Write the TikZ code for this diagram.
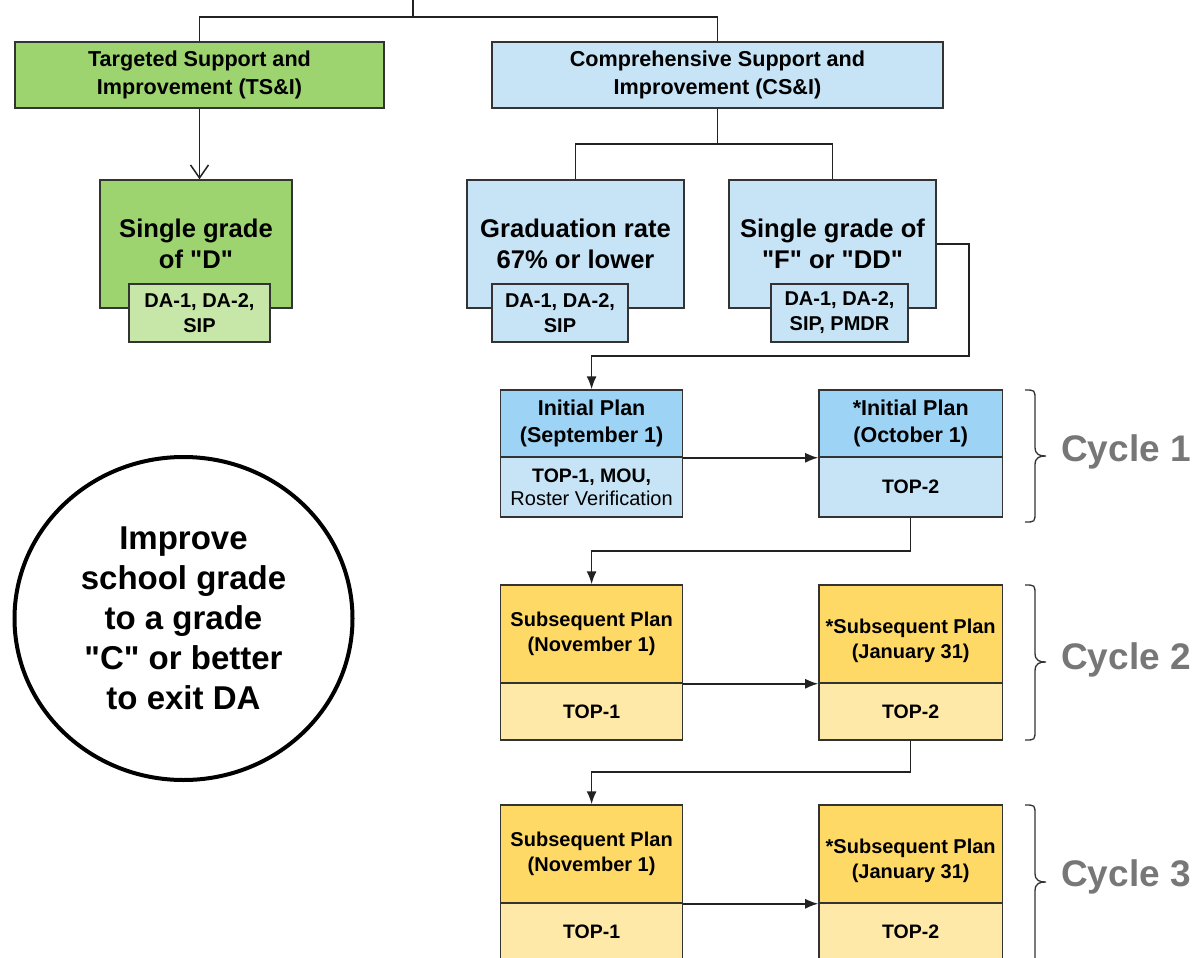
\documentclass[tikz,border=0pt]{standalone}
\usepackage{fontspec}
\newfontfamily\af{Liberation Sans}
\usetikzlibrary{arrows.meta,shapes.geometric}
\definecolor{gr}{HTML}{9ED46F}
\definecolor{grl}{HTML}{C6E7A8}
\definecolor{bl}{HTML}{C6E4F6}
\definecolor{bld}{HTML}{9DD3F4}
\definecolor{ye}{HTML}{FFD966}
\definecolor{yel}{HTML}{FFE9A8}
\definecolor{bd}{HTML}{333333}
\definecolor{lnc}{HTML}{222222}
\definecolor{cyc}{HTML}{777777}
\newcommand{\lowtwo}[2]{\raisebox{-12pt}[0pt][0pt]{\begin{tabular}{@{}c@{}}#1\\#2\end{tabular}}}
\begin{document}
\begin{tikzpicture}[x=1pt,y=-1pt,
  box/.style={draw=bd, line width=1.5pt, rectangle, inner sep=0pt, align=center, text=black},
  hdr/.style={box, font=\af\bfseries\fontsize{21.6}{28}\selectfont, minimum height=66pt},
  big/.style={box, font=\af\bfseries\fontsize{25.6}{31}\selectfont, minimum height=128pt},
  subbox/.style={box, font=\af\bfseries\fontsize{20}{25}\selectfont, minimum height=58pt},
  phA/.style={box, font=\af\bfseries\fontsize{21.5}{27}\selectfont},
  phB/.style={box, font=\af\bfseries\fontsize{20}{25}\selectfont},
  pbot/.style={box, font=\af\bfseries\fontsize{19.5}{23}\selectfont},
  lcol/.style={minimum width=182pt},
  rcol/.style={minimum width=183.5pt},
  ln/.style={draw=lnc, line width=1.5pt},
  arr/.style={ln, -{Latex[length=13pt,width=10pt]}},
  openarr/.style={ln, -{Straight Barb[length=13pt,width=18pt,line width=1.5pt]}},
  cyclab/.style={font=\af\bfseries\fontsize{37}{44}\selectfont, text=cyc},
  bracestyle/.style={draw=bd, line width=1.3pt}
]
\useasboundingbox (0,0) rectangle (1202,958);
\clip (0,0) rectangle (1202,958);
\fill[white] (0,0) rectangle (1202,958);

% top level
\node[hdr, fill=gr, minimum width=369pt] (TS) at (199.5,75) {Targeted Support and\\Improvement (TS\&I)};
\node[hdr, fill=bl, minimum width=451pt] (CS) at (717.5,75) {Comprehensive Support and\\Improvement (CS\&I)};

% second level
\node[big, fill=gr, minimum width=192pt] (D) at (196,244) {Single grade\\of "D"};
\node[subbox, fill=grl, minimum width=141pt] (Ds) at (199.5,313) {DA-1, DA-2,\\SIP};
\node[big, fill=bl, minimum width=217pt] (G) at (575.5,244) {Graduation rate\\67\% or lower};
\node[subbox, fill=bl, minimum width=136pt] (Gs) at (560,313) {DA-1, DA-2,\\SIP};
\node[big, fill=bl, minimum width=207pt] (F) at (832.5,244) {Single grade of\\"F" or "DD"};
\node[subbox, fill=bl, minimum width=137pt] (Fs) at (839.5,313) {DA-1, DA-2,\\SIP, PMDR};

% cycle 1
\node[phA, lcol, fill=bld, minimum height=67pt] (A1) at (591.6,423.5) {Initial Plan\\(September 1)};
\node[pbot, lcol, fill=bl, minimum height=60pt] (A1b) at (591.6,487) {TOP-1, MOU,\\{\mdseries\fontsize{20}{23}\selectfont Roster Verification}};
\node[phA, rcol, fill=bld, minimum height=67pt] (B1) at (910.7,423.5) {*Initial Plan\\(October 1)};
\node[pbot, rcol, fill=bl, minimum height=60pt] (B1b) at (910.7,487) {TOP-2};

% cycle 2
\node[phB, lcol, fill=ye, minimum height=98pt] (A2) at (591.6,634) {Subsequent Plan\\(November 1)};
\node[pbot, lcol, fill=yel, minimum height=57pt] (A2b) at (591.6,711.5) {TOP-1};
\node[phB, rcol, fill=ye, minimum height=98pt] (B2) at (910.7,634) {\lowtwo{*Subsequent Plan}{(January 31)}};
\node[pbot, rcol, fill=yel, minimum height=57pt] (B2b) at (910.7,711.5) {TOP-2};

% cycle 3
\node[phB, lcol, fill=ye, minimum height=98pt] (A3) at (591.6,854) {Subsequent Plan\\(November 1)};
\node[pbot, lcol, fill=yel, minimum height=57pt] (A3b) at (591.6,931.5) {TOP-1};
\node[phB, rcol, fill=ye, minimum height=98pt] (B3) at (910.7,854) {\lowtwo{*Subsequent Plan}{(January 31)}};
\node[pbot, rcol, fill=yel, minimum height=57pt] (B3b) at (910.7,931.5) {TOP-2};

% goal circle
\node[ellipse, draw=black, line width=4pt, minimum width=338pt, minimum height=323pt, inner sep=0pt, align=center,
  font=\af\bfseries\fontsize{33}{40}\selectfont] (goal) at (183.5,618.5)
  {Improve\\school grade\\to a grade\\"C" or better\\to exit DA};

% cycle labels
\node[cyclab] (c1) at (1126,452) {Cycle 1};
\node[cyclab] (c2) at (1126,660) {Cycle 2};
\node[cyclab] (c3) at (1126,877) {Cycle 3};

% braces
\foreach \ya/\ym/\yb in {390/456/522, 585/662/740, 805/882/965}{
  \draw[bracestyle] (1025,\ya) .. controls (1035,\ya) and (1035,\ya) .. (1035,\ya+10)
    -- (1035,\ym-9) .. controls (1035,\ym-1) and (1040,\ym) .. (1046,\ym)
    .. controls (1040,\ym) and (1035,\ym+1) .. (1035,\ym+9)
    -- (1035,\yb-10) .. controls (1035,\yb) and (1035,\yb) .. (1025,\yb);
}

% connectors
\coordinate (t0) at (413,0);
\coordinate (j0) at (413,17);
\draw[ln] (t0) -- (j0);
\draw[ln] (TS.north) |- (j0) -| (CS.north);
\draw[openarr] (TS.south) -- (TS.south |- D.north);
\coordinate (j1) at (717.5,144);
\draw[ln] (CS.south) -- (j1);
\draw[ln] (G.north) |- (j1) -| (F.north);
\coordinate (k1) at (969,356);
\draw[arr] (F.east) -| (k1) -| (A1.north);
\draw[arr] (A1.south east) -- (B1.south west);
\coordinate (k2) at (591.6,551);
\draw[arr] (B1b.south) |- (k2) -- (A2.north);
\draw[arr] (A2.south east) -- (B2.south west);
\coordinate (k3) at (591.6,772);
\draw[arr] (B2b.south) |- (k3) -- (A3.north);
\draw[arr] (A3.south east) -- (B3.south west);
\end{tikzpicture}
\end{document}
